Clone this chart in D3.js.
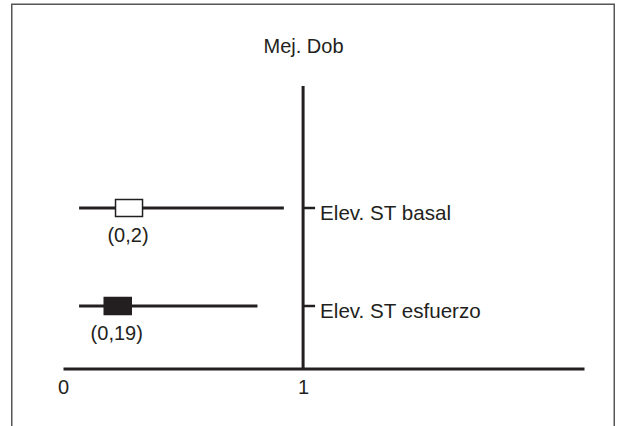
<!DOCTYPE html>
<html>
<head>
<meta charset="utf-8">
<script src="https://cdn.jsdelivr.net/npm/d3@7"></script>
<style>
  body { margin: 0; background: #fff; }
  svg { display: block; font-family: "Liberation Sans", Arial, sans-serif; }
</style>
</head>
<body>
<div id="chart"></div>
<script>
const categories = ["Elev. ST basal", "Elev. ST esfuerzo"];
const estimates = [0.275, 0.228];
const lower = [0.067, 0.067];
const upper = [0.92, 0.81];
const valueLabels = ["(0,2)", "(0,19)"];
const filled = [false, true];
const xTicks = [0, 1];
const title = "Mej. Dob";

const W = 625, H = 426;
const ink = "#231f20";

const svg = d3.select("#chart").append("svg")
  .attr("width", W).attr("height", H);

// frame (bottom edge falls outside the picture)
svg.append("rect")
  .attr("x", 11.75).attr("y", 4.25)
  .attr("width", 602.5).attr("height", 440)
  .attr("fill", "none")
  .attr("stroke", "#555").attr("stroke-width", 1.5);

const x = d3.scaleLinear().domain([0, 2.17]).range([63, 584]);
const y = d3.scalePoint().domain(categories).range([208, 306]);
const axisY = 368.5;
const lineTop = 86;

// title
svg.append("text")
  .attr("x", 303.5).attr("y", 53)
  .attr("text-anchor", "middle")
  .attr("font-size", "20px").attr("fill", ink)
  .text(title);

// x axis
svg.append("g")
  .attr("transform", `translate(0,${axisY})`)
  .call(d3.axisBottom(x).tickValues(xTicks).tickSize(0).tickSizeOuter(0).tickPadding(11.5).tickFormat(d3.format("d")))
  .call((g) => g.select(".domain").attr("stroke", ink).attr("stroke-width", 3))
  .selectAll("text")
  .attr("font-size", "20px").attr("fill", ink)
  .attr("font-family", "Liberation Sans, Arial, sans-serif");

// line of no effect
svg.append("line")
  .attr("x1", x(1)).attr("x2", x(1))
  .attr("y1", lineTop).attr("y2", axisY)
  .attr("stroke", ink).attr("stroke-width", 3);

// category ticks + labels to the right of the reference line
const catAxis = svg.append("g");
catAxis.selectAll("line")
  .data(categories)
  .join("line")
  .attr("x1", x(1)).attr("x2", x(1) + 12)
  .attr("y1", (d) => y(d)).attr("y2", (d) => y(d))
  .attr("stroke", ink).attr("stroke-width", 2.5);
catAxis.selectAll("text")
  .data(categories)
  .join("text")
  .attr("x", x(1) + 17)
  .attr("y", (d) => y(d))
  .attr("dy", "0.58em")
  .attr("font-size", "20.6px").attr("fill", ink)
  .text((d) => d);

const rows = categories.map((c, i) => ({
  cat: c, est: estimates[i], lo: lower[i], hi: upper[i],
  label: valueLabels[i], filled: filled[i]
}));

// confidence intervals
svg.selectAll(".ci")
  .data(rows)
  .join("line")
  .attr("class", "ci")
  .attr("x1", (d) => x(d.lo)).attr("x2", (d) => x(d.hi))
  .attr("y1", (d) => y(d.cat)).attr("y2", (d) => y(d.cat))
  .attr("stroke", ink).attr("stroke-width", 3);

// point estimate boxes
const bw = 27, bh = 17;
svg.selectAll(".box")
  .data(rows)
  .join("rect")
  .attr("class", "box")
  .attr("x", (d) => x(d.est) - bw / 2)
  .attr("y", (d) => y(d.cat) - bh / 2)
  .attr("width", bw).attr("height", bh)
  .attr("fill", (d) => d.filled ? ink : "#fff")
  .attr("stroke", ink).attr("stroke-width", 1.5);

// value labels
svg.selectAll(".val")
  .data(rows)
  .join("text")
  .attr("class", "val")
  .attr("x", (d) => x(d.est) - 1)
  .attr("y", (d) => y(d.cat) + 34)
  .attr("text-anchor", "middle")
  .attr("font-size", "20px").attr("fill", ink)
  .text((d) => d.label);
</script>
</body>
</html>
